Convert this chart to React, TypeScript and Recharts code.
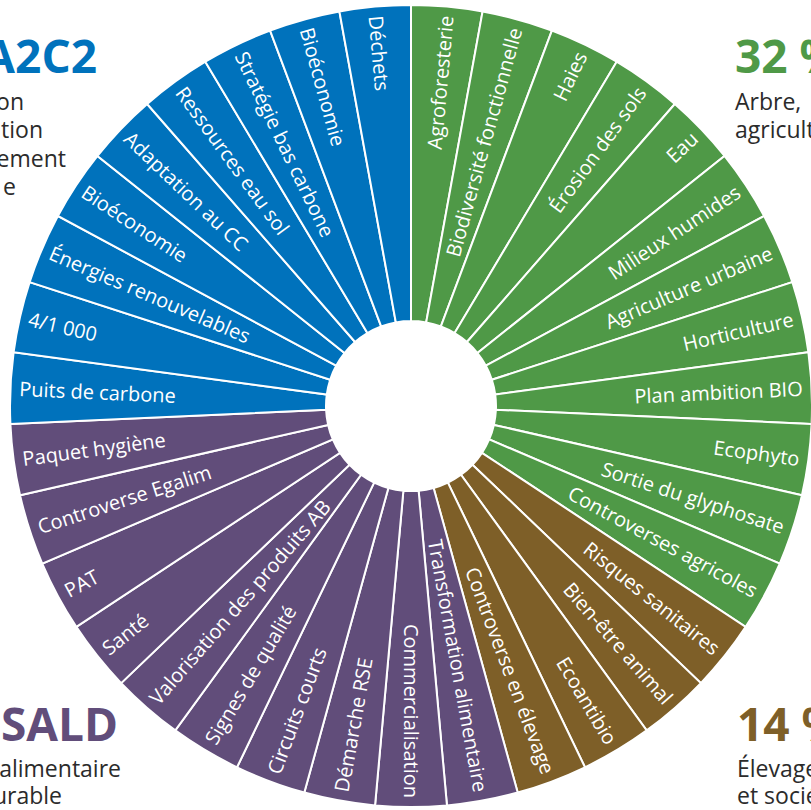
import { PieChart, Pie, Cell } from "recharts";

// thèmes par axe, dans le sens horaire à partir de midi
const greenTopics = [
  "Agroforesterie",
  "Biodiversité fonctionnelle",
  "Haies",
  "Érosion des sols",
  "Eau",
  "Milieux humides",
  "Agriculture urbaine",
  "Horticulture",
  "Plan ambition BIO",
  "Ecophyto",
  "Sortie du glyphosate",
  "Controverses agricoles",
];
const brownTopics = [
  "Risques sanitaires",
  "Bien-être animal",
  "Ecoantibio",
  "Controverse en élevage",
];
const purpleTopics = [
  "Transformation alimentaire",
  "Commercialisation",
  "Démarche RSE",
  "Circuits courts",
  "Signes de qualité",
  "Valorisation des produits AB",
  "Santé",
  "PAT",
  "Controverse Egalim",
  "Paquet hygiène",
];
const blueTopics = [
  "Puits de carbone",
  "4/1 000",
  "Énergies renouvelables",
  "Bioéconomie",
  "Adaptation au CC",
  "Ressources eau sol",
  "Stratégie bas carbone",
  "Bioéconomie",
  "Déchets",
];

const GREEN = "#4f9947";
const BROWN = "#7e5f28";
const PURPLE = "#614d7a";
const BLUE = "#0072bc";

const groups = [
  { topics: greenTopics, color: GREEN },
  { topics: brownTopics, color: BROWN },
  { topics: purpleTopics, color: PURPLE },
  { topics: blueTopics, color: BLUE },
];

// chaque thème a le même poids
const data = groups.flatMap((g) =>
  g.topics.map((name) => ({ name, value: 1, color: g.color }))
);

const FONT = "'Open Sans', sans-serif";

const renderLabel = (props: any) => {
  const { cx, cy, midAngle, outerRadius, index } = props;
  const r = outerRadius - 9;
  const rad = (-midAngle * Math.PI) / 180;
  const x = cx + r * Math.cos(rad);
  const y = cy + r * Math.sin(rad);
  const right = Math.cos(rad) > -1e-6;
  const rot = right ? -midAngle : 180 - midAngle;
  return (
    <text
      key={`lbl-${index}`}
      x={x}
      y={y}
      transform={`rotate(${rot} ${x} ${y})`}
      textAnchor={right ? "end" : "start"}
      dominantBaseline="central"
      fill="#fff"
      fontSize={20}
      fontFamily={FONT}
    >
      {data[index].name}
    </text>
  );
};

export default function App() {
  return (
    <div
      style={{
        position: "absolute",
        left: 0,
        top: 0,
        width: 811,
        height: 810,
        overflow: "hidden",
        background: "#fff",
      }}
    >
      <PieChart
        width={811}
        height={810}
        margin={{ top: 0, right: 0, bottom: 0, left: 0 }}
      >
        <Pie
          data={data}
          dataKey="value"
          nameKey="name"
          cx={411}
          cy={406}
          innerRadius={85}
          outerRadius={401}
          startAngle={90}
          endAngle={-270}
          stroke="#fff"
          strokeWidth={2}
          label={renderLabel}
          labelLine={false}
          isAnimationActive={false}
        >
          {data.map((d, i) => (
            <Cell key={i} fill={d.color} />
          ))}
        </Pie>
      </PieChart>

      <svg
        width={811}
        height={810}
        style={{ position: "absolute", left: 0, top: 0, pointerEvents: "none" }}
        fontFamily={FONT}
      >
        <text x={97} y={73} textAnchor="end" fontSize={46} fontWeight={700} fill={BLUE}>
          A2C2
        </text>
        <g fontSize={23} fill="#2b2b2b" textAnchor="end">
          <text x={24} y={110}>on</text>
          <text x={43} y={138}>tion</text>
          <text x={66} y={167}>ement</text>
          <text x={16} y={195}>e</text>
        </g>

        <text x={735} y={73} fontSize={46} fontWeight={700} fill={GREEN}>
          32 %
        </text>
        <g fontSize={23} fill="#2b2b2b">
          <text x={735} y={110}>Arbre,</text>
          <text x={735} y={138}>agriculture</text>
        </g>

        <text x={737} y={741} fontSize={46} fontWeight={700} fill={BROWN}>
          14 %
        </text>
        <g fontSize={23} fill="#2b2b2b">
          <text x={737} y={777}>Élevage</text>
          <text x={737} y={804}>et société</text>
        </g>

        <text x={118} y={741} textAnchor="end" fontSize={46} fontWeight={700} fill={PURPLE}>
          SALD
        </text>
        <g fontSize={23} fill="#2b2b2b" textAnchor="end">
          <text x={121} y={777}>alimentaire</text>
          <text x={62} y={804}>durable</text>
        </g>
      </svg>
    </div>
  );
}
